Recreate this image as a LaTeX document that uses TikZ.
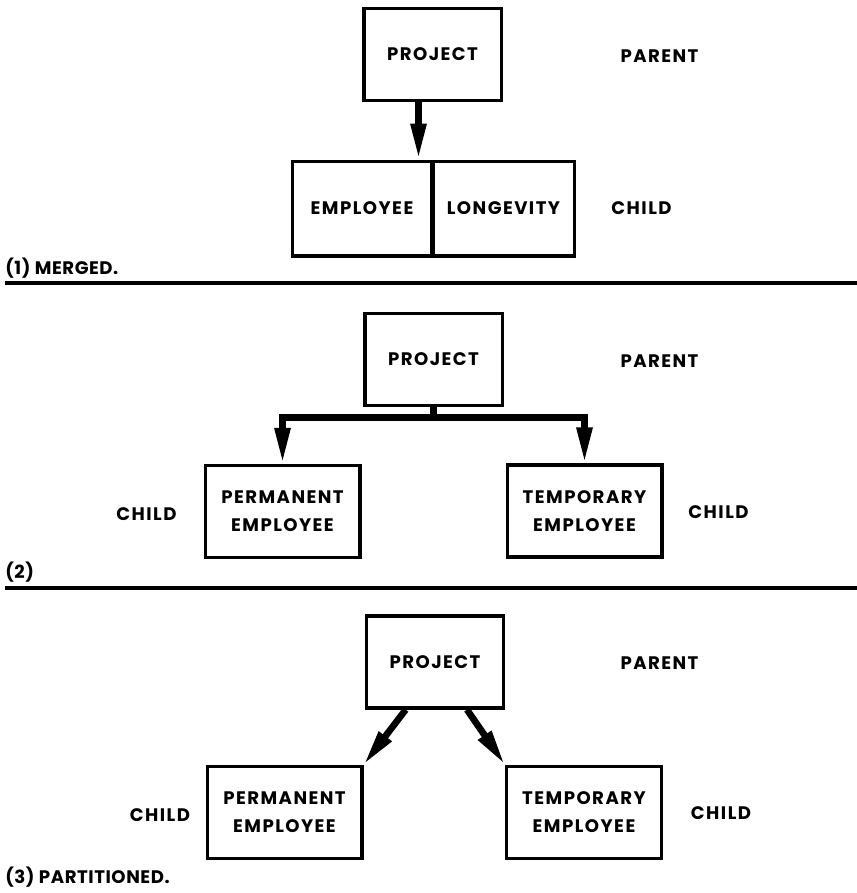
\documentclass[tikz,border=0pt]{standalone}
\usepackage{fontspec}
\newfontfamily\diagfont[LetterSpace=8]{Poppins}
\newfontfamily\capfont[LetterSpace=3]{Poppins}
\usepackage{tikz}
\usetikzlibrary{arrows,arrows.meta,calc,positioning}

\tikzset{
  txt/.style={font={\diagfont\bfseries\fontsize{13.6}{21}\selectfont}},
  entity/.style={txt,draw,line width=2.5pt,inner sep=1pt,align=center,
                 minimum width=116pt,minimum height=69pt},
  owner/.style={entity,minimum width=103pt},
  tag/.style={txt,inner sep=0pt},
  caption/.style={font={\capfont\bfseries\fontsize{13.6}{21}\selectfont},
                  inner sep=0pt,anchor=west},
  rule/.style={line width=2.6pt},
  flow/.style={line width=5pt,-{Triangle[length=27pt,width=11pt]}},
}

\begin{document}
\begin{tikzpicture}[x=0.75pt,y=-0.75pt]
  \useasboundingbox (0,0) rectangle (857,893);
%
% (1) merged
%
  \node [owner] (proj1) at (432.5,54.5) {PROJECT};
  \node [owner,minimum width=104pt,minimum height=71pt] (emp) at (362,208.5) {EMPLOYEE};
  \node [owner,minimum width=106pt,minimum height=71pt] (lon) at (503.5,208.5) {LONGEVITY};
  \node [tag] (par1) at (659.5,56) {PARENT};
  \node [tag] (chi1) at (641.5,208) {CHILD};
  \node [caption] (cap1) at (5,268) {(1) MERGED.};
%
  \coordinate (drop1) at ([xshift=-10.5pt]proj1.south);
  \draw [flow] (drop1) -- (drop1 |- emp.north);
%
  \draw [rule] (5,283) -- (857,283);
%
% (2)
%
  \node [owner] (proj2) at (433.5,359.5) {PROJECT};
  \node [entity] (perm2) at (282.5,511.5) {PERMANENT\\EMPLOYEE};
  \node [entity] (temp2) at (584.5,511) {TEMPORARY\\EMPLOYEE};
  \node [tag] (par2) at (659.5,361) {PARENT};
  \node [tag] (chi2l) at (146.5,514) {CHILD};
  \node [tag] (chi2r) at (718.5,512) {CHILD};
  \node [caption] (cap2) at (5,572) {(2)};
%
  \coordinate (fork2) at ($(proj2.south)+(0,10)$);
  \draw [flow] (proj2.south) -- (fork2) -| (perm2.north);
  \draw [flow] (fork2) -| (temp2.north);
%
  \draw [rule] (5,588) -- (857,588);
%
% (3) partitioned
%
  \node [owner] (proj3) at (435,662) {PROJECT};
  \node [entity] (perm3) at (284.5,812.5) {PERMANENT\\EMPLOYEE};
  \node [entity] (temp3) at (584,812.5) {TEMPORARY\\EMPLOYEE};
  \node [tag] (par3) at (659.5,663) {PARENT};
  \node [tag] (chi3l) at (160,815) {CHILD};
  \node [tag] (chi3r) at (721,813) {CHILD};
  \node [caption] (cap3) at (5,877) {(3) PARTITIONED.};
%
  \draw [flow] ([xshift=-22pt]proj3.south) -- (perm3.north east);
  \draw [flow] ([xshift=24pt]proj3.south) -- (temp3.north west);
%
\end{tikzpicture}
\end{document}
